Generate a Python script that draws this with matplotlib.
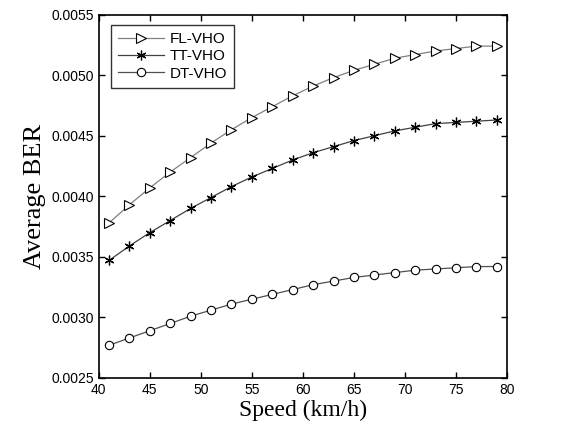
import matplotlib
matplotlib.use("Agg")
import matplotlib.pyplot as plt
from matplotlib.ticker import FormatStrFormatter

# velocidades (km/h)
speed = [41, 43, 45, 47, 49, 51, 53, 55, 57, 59, 61, 63, 65, 67, 69, 71, 73, 75, 77, 79]

fl_vho = [0.00378, 0.00393, 0.00407, 0.00420, 0.00432, 0.00444, 0.00455, 0.00465, 0.00474, 0.00483,
          0.00491, 0.00498, 0.00504, 0.00509, 0.00514, 0.00517, 0.00520, 0.00522, 0.00524, 0.00524]
tt_vho = [0.00347, 0.00359, 0.00370, 0.00380, 0.00390, 0.00399, 0.00408, 0.00416, 0.00423, 0.00430,
          0.00436, 0.00441, 0.00446, 0.00450, 0.00454, 0.00457, 0.00460, 0.00461, 0.00462, 0.00463]
dt_vho = [0.00277, 0.00283, 0.00289, 0.00295, 0.00301, 0.00306, 0.00311, 0.00315, 0.00319, 0.00323,
          0.00327, 0.00330, 0.00333, 0.00335, 0.00337, 0.00339, 0.00340, 0.00341, 0.00342, 0.00342]

plt.rcParams['font.family'] = ['Liberation Sans', 'DejaVu Sans']

fig = plt.figure(figsize=(5.71, 4.30), dpi=100)
ax = fig.add_axes([0.173, 0.121, 0.715, 0.845])

ax.plot(speed, fl_vho, color='#808080', lw=0.9, marker='>', ms=7, mfc='white', mec='black', mew=0.8, label='FL-VHO')
ax.plot(speed, tt_vho, color='#404040', lw=0.9, marker=(6, 2, 0), ms=7, mec='black', mew=0.9, label='TT-VHO')
ax.plot(speed, dt_vho, color='#505050', lw=0.9, marker='o', ms=6, mfc='white', mec='black', mew=0.8, label='DT-VHO')

ax.set_xlim(40, 80)
ax.set_ylim(0.0025, 0.0055)
ax.set_xticks(range(40, 81, 5))
ax.set_yticks([0.0025, 0.0030, 0.0035, 0.0040, 0.0045, 0.0050, 0.0055])
ax.yaxis.set_major_formatter(FormatStrFormatter('%.4f'))
ax.tick_params(direction='in', top=True, right=True, labelsize=10, length=4, width=1)
for s in ax.spines.values():
    s.set_linewidth(1.2)

ax.set_xlabel('Speed (km/h)', family='Liberation Serif', fontsize=17, labelpad=2)
ax.set_ylabel('Average BER', family='Liberation Serif', fontsize=19, labelpad=4)

leg = ax.legend(loc='upper left', bbox_to_anchor=(0.031, 0.971), borderaxespad=0,
                fontsize=11, fancybox=False, edgecolor='black',
                handlelength=3.0, handletextpad=0.35, labelspacing=0.22, borderpad=0.45)
leg.get_frame().set_linewidth(1.0)

fig.savefig('out.png', dpi=100)
